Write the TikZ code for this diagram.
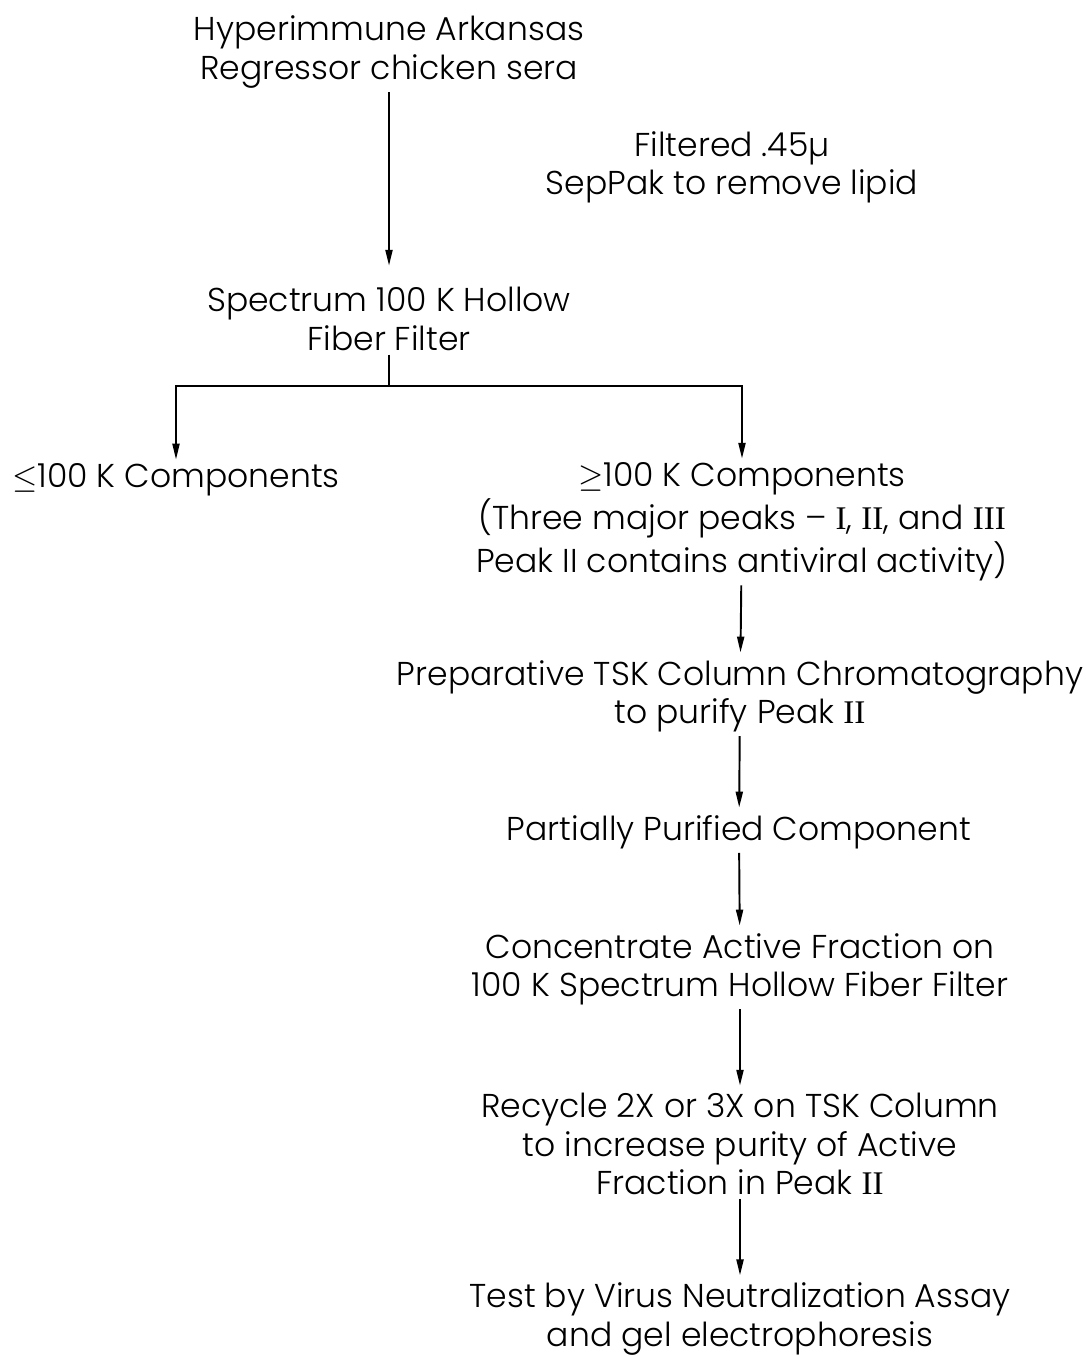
\documentclass[tikz,border=0pt]{standalone}
\usepackage{fontspec}
\setmainfont{Poppins Light}
\newfontfamily\romnum{Liberation Serif}
\usepackage{tikz}
\usetikzlibrary{arrows.meta,positioning}
\newcommand{\pk}[1]{{\romnum #1}}
\tikzset{
  txt/.style={align=center,inner sep=1pt,font=\fontsize{9.4}{10.9}\selectfont},
  arr/.style={-{Triangle[length=4.5pt,width=2pt]},line width=0.55pt,black},
  ln/.style={line width=0.55pt,black},
}

\begin{document}
\begin{tikzpicture}
  \useasboundingbox (0,0) rectangle (10.85,-13.57);
  \node[txt] (sera)    at (3.89,-0.52)  {Hyperimmune Arkansas\\Regressor chicken sera};
  \node[txt] (seppak)  at (7.32,-1.67)  {Filtered .45µ\\SepPak to remove lipid};
  \node[txt] (hollow)  at (3.89,-3.19)  {Spectrum 100 K Hollow\\Fiber Filter};
  \node[txt] (low)     at (1.76,-4.80)  {$\leq$100 K Components};
  \node[txt] (high)    at (7.42,-5.22)  {$\geq$100 K Components\\(Three major peaks -- \pk{I}, \pk{II}, and \pk{III}\\Peak II contains antiviral activity)};
  \node[txt] (tsk)     at (7.40,-6.96)  {Preparative TSK Column Chromatography\\to purify Peak \pk{II}};
  \node[txt] (partial) at (7.39,-8.32)  {Partially Purified Component};
  \node[txt] (conc)    at (7.40,-9.69)  {Concentrate Active Fraction on\\100 K Spectrum Hollow Fiber Filter};
  \node[txt] (recycle) at (7.40,-11.44) {Recycle 2X or 3X on TSK Column\\to increase purity of Active\\Fraction in Peak \pk{II}};
  \node[txt] (assay)   at (7.40,-13.19) {Test by Virus Neutralization Assay\\and gel electrophoresis};

  \draw[arr,shorten >=5pt] (sera) -- (hollow);
  \coordinate (split) at (3.89,-3.86);
  \draw[ln] (hollow) -- (split);
  \draw[arr] (split) -| (low);
  \draw[arr] (split) -| (high);
  \foreach \a/\b in {high/tsk,tsk/partial,partial/conc,conc/recycle,recycle/assay}
    \draw[arr,shorten >=1pt] (\a) -- (\b);
\end{tikzpicture}
\end{document}
